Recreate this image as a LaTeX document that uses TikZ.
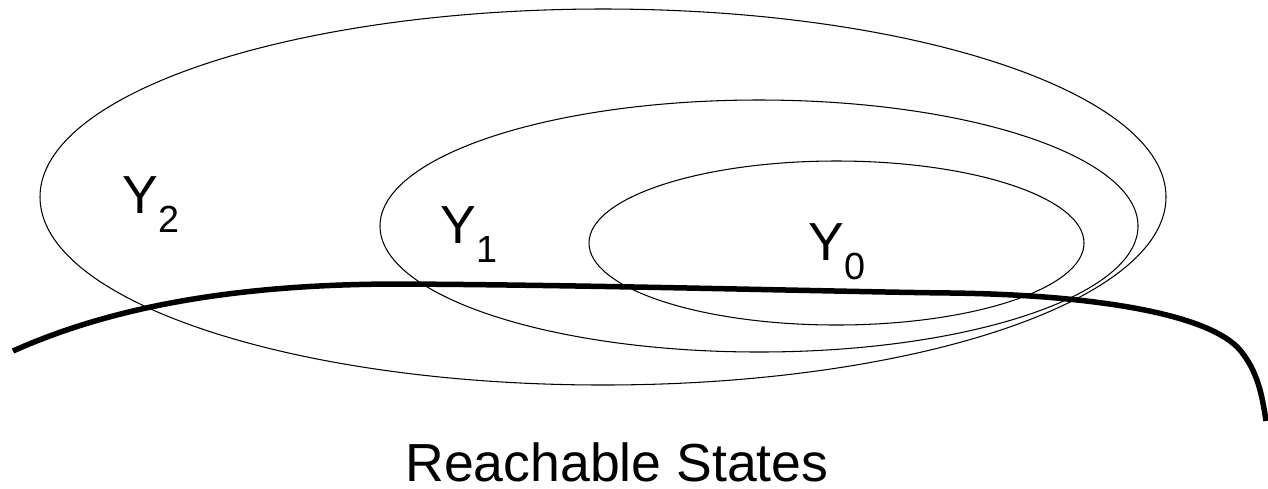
\documentclass[tikz,border=0pt]{standalone}
\usepackage{fontspec}
\setmainfont{Liberation Sans}
\usepackage{tikz}

% subscript index of a set label
\newcommand{\subidx}[1]{\raisebox{-3.8mm}{\fontsize{21.5pt}{24pt}\selectfont #1}}

\begin{document}
\begin{tikzpicture}[x=0.2mm,y=-0.2mm,line cap=round,line join=round,
    setline/.style={line width=0.6pt},
    reach/.style={line width=1.1mm,line cap=butt},
    lbl/.style={inner sep=0pt,font=\fontsize{30.5pt}{36pt}\selectfont}]
  \useasboundingbox (0,0) rectangle (1268,488);

  % Nested sets Y_2, Y_1, Y_0
  \draw[setline] (603,197) ellipse [x radius=563, y radius=188];
  \draw[setline] (759,226) ellipse [x radius=379, y radius=126];
  \draw[setline] (836.5,243) ellipse [x radius=247.5, y radius=82];

  % Border of the reachable states
  \draw[reach] (13,351) .. controls (120,303) and (250,284) .. (400,284)
    .. controls (600,285) and (850,292) .. (951,293)
    .. controls (1100,295) and (1210,315) .. (1240,350)
    .. controls (1258,372) and (1262,395) .. (1266,421);

  % Labels
  \node[lbl,anchor=base west] (ytwo) at (122,213) {Y\subidx{2}};
  \node[lbl,anchor=base west] (yone) at (440,243) {Y\subidx{1}};
  \node[lbl,anchor=base west] (yzero) at (808,260) {Y\subidx{0}};
  \node[lbl,anchor=base] (reach) at (617,481) {Reachable States};
\end{tikzpicture}
\end{document}
